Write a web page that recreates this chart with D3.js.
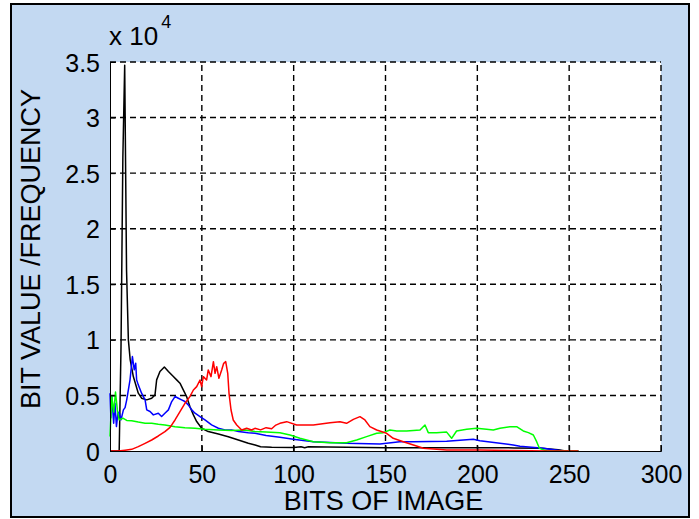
<!DOCTYPE html>
<html>
<head>
<meta charset="utf-8">
<script src="https://cdn.jsdelivr.net/npm/d3@7/dist/d3.min.js"></script>
<style>
  body { margin: 0; background: #fff; }
  svg text { font-family: "Liberation Sans", Arial, sans-serif; fill: #000; }
</style>
</head>
<body>
<div id="chart"></div>
<script>
'use strict'
// 直方图数据 [灰度级, 频数]
var blackPts = [[0,0],[5,0],[6,9400],[7,26400],[8,34700],[9,16300],[10,10000],[11,8200],[12.7,6700],[15.4,5200],[17.2,4750],[20,4600],[22.7,4750],[24.5,5050],[25.4,6400],[27.2,7150],[29.6,7550],[31.8,7150],[34.5,6700],[36.3,6400],[38.1,6100],[39.9,5500],[41.7,4900],[43.5,4000],[45.4,3250],[47.2,2650],[49.9,2050],[53.5,1750],[59,1530],[64.4,1290],[69.9,990],[75.3,690],[79,540],[82,380],[88,330],[100,320],[104,380],[106,300],[108,380],[150,300],[200,300],[220,280],[235,240],[244,120],[248,0],[255,0]];
var bluePts = [[0,5200],[0.5,3000],[1,4900],[2,2500],[2.7,4300],[3.5,2200],[4.3,3400],[5,3500],[6,2800],[7.3,3700],[8.2,3900],[9.1,4600],[10.9,6400],[12.2,8500],[13.2,7300],[14,7900],[14.5,6400],[15.4,5950],[17.2,5200],[19.1,4600],[20,3700],[21.8,3550],[23.6,3250],[26.3,3400],[28.1,3100],[29.9,3400],[31.8,3700],[33.6,4450],[35.4,4900],[37.2,4750],[39,4600],[40.8,4450],[42.6,4150],[44.5,3700],[46.3,3400],[49,3100],[51.7,2800],[55.3,2350],[59,2050],[62.6,1900],[66.2,1900],[69.9,1750],[75.3,1650],[79,1600],[85,1400],[92.5,1230],[99.8,1050],[110.7,840],[128.8,690],[147,630],[157.8,840],[165.2,840],[183.3,870],[197.8,1050],[201.4,930],[219.5,540],[223.2,420],[235.9,240],[246.8,0],[255,0]];
var greenPts = [[0,1300],[1,4900],[2,3500],[3,5300],[4,3700],[5,2800],[7,2950],[9.1,2750],[11.8,2730],[15.4,2600],[19.1,2500],[22.7,2490],[26.3,2400],[29.9,2340],[35.4,2190],[40.8,2100],[46.3,2040],[51.7,1950],[59,1890],[66.2,1850],[73.5,1890],[78.9,1750],[85,1700],[92.5,1650],[98,1440],[103.4,1140],[110.7,840],[119.8,750],[128.8,750],[134.3,990],[139.7,1290],[145.2,1590],[148.8,1650],[152.4,1890],[156.1,1800],[161.5,1800],[168.8,1890],[171.5,2340],[173.3,1650],[177.8,1650],[183.3,1700],[186,1140],[188.7,1800],[194.2,1950],[199.6,2040],[205,1950],[208.7,1890],[212.3,2040],[217.8,2190],[221.4,2190],[225,1800],[227.8,1650],[230.5,1440],[232.3,840],[233.8,240],[237.8,0],[255,0]];
var redPts = [[0,0],[4.5,0],[8.2,70],[11.8,150],[15.4,390],[19.1,690],[22.7,990],[26.3,1350],[29.9,1740],[32.7,2130],[35.4,2790],[38.1,3540],[40.8,4290],[43.5,4890],[45.4,5490],[47.2,5790],[49,6390],[49.9,5790],[50.8,6690],[52.6,6390],[53.5,7290],[55,6690],[56.3,8040],[57.2,6990],[58.1,7590],[59.3,6540],[60.8,7290],[61.9,7890],[63,8040],[64.1,6990],[64.8,5190],[65.9,3690],[67.1,2790],[69,2340],[71.7,1890],[74.4,2040],[77.1,1890],[78.9,2040],[82,1900],[85,2100],[88,2000],[90,2300],[92.5,2490],[96.2,2640],[101.6,2340],[110.7,2340],[119.8,2550],[125.2,2640],[128.8,2490],[132.5,2850],[136.1,3090],[138.8,2790],[141.5,2190],[145.2,1890],[150.6,1590],[154.2,1140],[159.7,840],[165.2,540],[170.6,240],[183.3,90],[201.4,90],[219.5,50],[238,0],[255,0]];

var xTicks = [0, 50, 100, 150, 200, 250, 300];
var yTicks = [0, 5000, 10000, 15000, 20000, 25000, 30000, 35000];
var yTickLabels = ["0", "0.5", "1", "1.5", "2", "2.5", "3", "3.5"];

var W = 699, H = 519;
var margin = { left: 110, right: 38, top: 62, bottom: 68 };

var svg = d3.select("#chart").append("svg")
    .attr("width", W)
    .attr("height", H);

// 外框
svg.append("rect")
    .attr("x", 11).attr("y", 4)
    .attr("width", 678).attr("height", 513)
    .attr("fill", "#c3d9f2")
    .attr("stroke", "#000")
    .attr("stroke-width", 2);

var x = d3.scaleLinear().domain([0, 300]).range([margin.left, W - margin.right]);
var y = d3.scaleLinear().domain([0, 35000]).range([H - margin.bottom, margin.top]);

svg.append("rect")
    .attr("x", x(0)).attr("y", y(35000))
    .attr("width", x(300) - x(0)).attr("height", y(0) - y(35000))
    .attr("fill", "#fff");

// 网格
var grid = svg.append("g")
    .attr("stroke", "#000")
    .attr("stroke-width", 1.4)
    .attr("stroke-dasharray", "6,4");
grid.selectAll(".gx").data(xTicks.slice(1)).enter().append("line")
    .attr("x1", function (d) { return x(d); })
    .attr("x2", function (d) { return x(d); })
    .attr("y1", y(0)).attr("y2", y(35000));
grid.selectAll(".gy").data(yTicks.slice(1)).enter().append("line")
    .attr("y1", function (d) { return y(d); })
    .attr("y2", function (d) { return y(d); })
    .attr("x1", x(0)).attr("x2", x(300));

// 线生成器
var line = d3.line()
    .x(function (d) { return x(d[0]); })
    .y(function (d) { return y(d[1]); });

var series = [
    { pts: blackPts, color: "#000000" },
    { pts: bluePts, color: "#0000ff" },
    { pts: greenPts, color: "#00ff00" },
    { pts: redPts, color: "#ff0000" }
];
svg.append("g").selectAll("path")
    .data(series)
    .enter().append("path")
    .attr("d", function (d) { return line(d.pts); })
    .attr("fill", "none")
    .attr("stroke", function (d) { return d.color; })
    .attr("stroke-width", 1.5)
    .attr("stroke-linejoin", "round");

// 坐标轴
var xAxis = d3.axisBottom(x).tickValues(xTicks).tickSize(-5.5).tickPadding(14);
var yAxis = d3.axisLeft(y).tickValues(yTicks).tickSize(-5.5).tickPadding(10)
    .tickFormat(function (d, i) { return yTickLabels[i]; });

var gx = svg.append("g").attr("transform", "translate(0," + y(0) + ")").call(xAxis);
var gy = svg.append("g").attr("transform", "translate(" + x(0) + ",0)").call(yAxis);
[gx, gy].forEach(function (g) {
    g.selectAll("text").style("font-size", "25px").attr("fill", "#000");
    g.selectAll("line").attr("stroke", "#000");
    g.select(".domain").attr("stroke", "#000");
});
gy.selectAll("text").attr("dy", "0.36em");

svg.append("text")
    .attr("x", (x(0) + x(300)) / 2 - 2)
    .attr("y", 510)
    .attr("text-anchor", "middle")
    .style("font-size", "27px")
    .text("BITS OF IMAGE");

svg.append("text")
    .attr("transform", "translate(40,249) rotate(-90)")
    .attr("text-anchor", "middle")
    .style("font-size", "27px")
    .text("BIT VALUE /FREQUENCY");

// 指数标注
var ex = svg.append("text").attr("x", 109).attr("y", 45).style("font-size", "26px");
ex.append("tspan").text("x 10");
ex.append("tspan").attr("dx", 3).attr("dy", -17).style("font-size", "18px").text("4");
</script>
</body>
</html>
